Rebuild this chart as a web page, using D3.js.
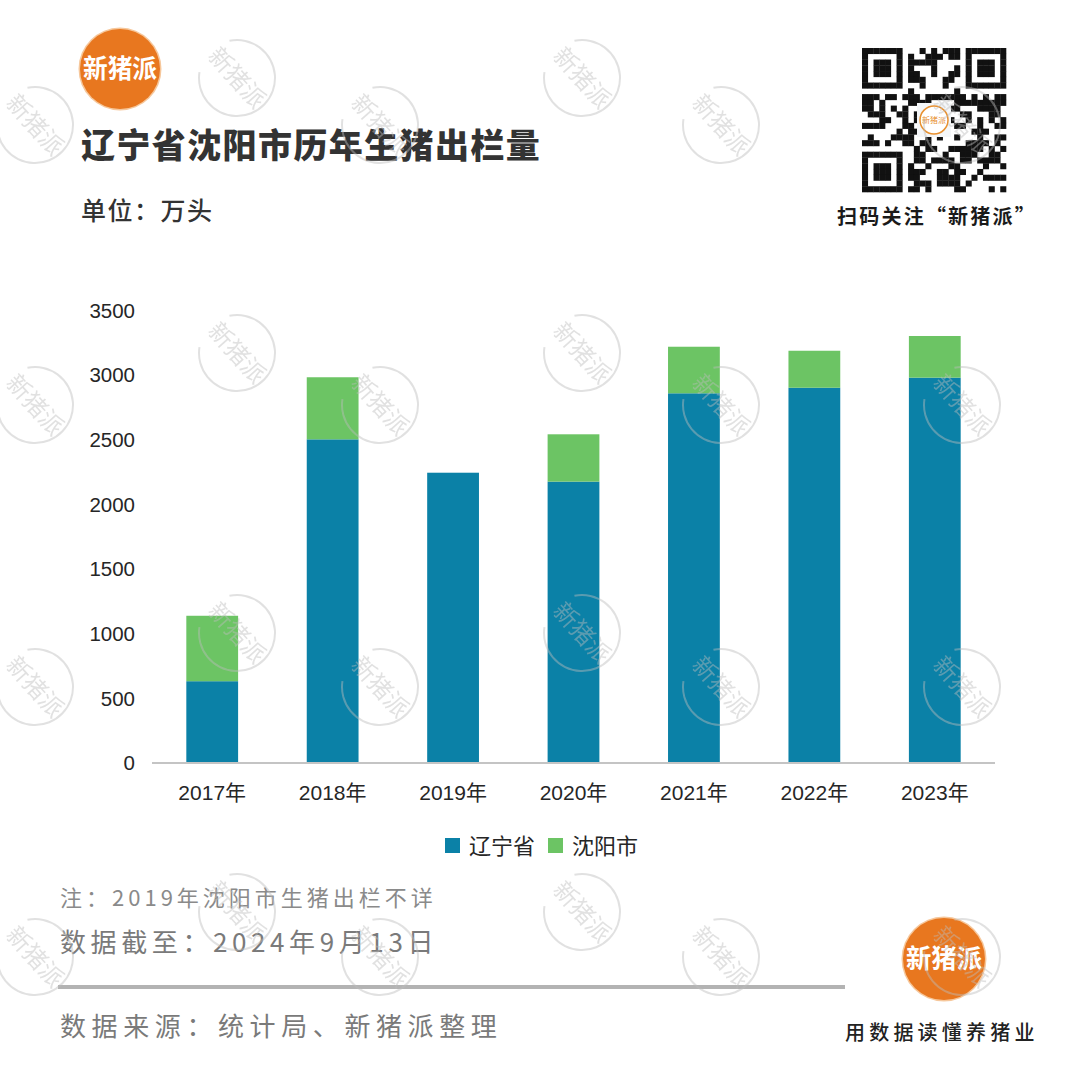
<!DOCTYPE html>
<html><head><meta charset="utf-8">
<script src="https://cdn.jsdelivr.net/npm/d3@7"></script>
<style>
html,body{margin:0;padding:0;background:#fff;}
svg{display:block;}
</style></head>
<body>
<svg id="c" width="1080" height="1080"></svg>
<script>
// ---- data ----
const categories = ['2017年','2018年','2019年','2020年','2021年','2022年','2023年'];
const liaoning = [630, 2500, 2242, 2173, 2856, 2899, 2977];
const shenyang = [506, 480, null, 366, 360, 286, 322];
const seriesNames = ['辽宁省','沈阳市'];
const yTicks = [0, 500, 1000, 1500, 2000, 2500, 3000, 3500];

const colors = {'辽宁省':'#0b81a7','沈阳市':'#6cc464'};
const CJK = '"Noto Sans CJK SC","Noto Sans",sans-serif';
const LAT = '"Liberation Sans",Arial,"Noto Sans CJK SC",sans-serif';

const svg = d3.select('#c');
svg.append('rect').attr('width',1080).attr('height',1080).attr('fill','#fff');

// ---- scales ----
const x = d3.scaleBand().domain(categories).range([152, 995]).paddingInner(0.57).paddingOuter(0.285);
const y = d3.scaleLinear().domain([0, 3500]).range([762.7, 310]);

// ---- stacked bars ----
const rows = categories.map((c,i)=>({cat:c,'辽宁省':liaoning[i],'沈阳市':shenyang[i]==null?0:shenyang[i]}));
const stack = d3.stack().keys(seriesNames)(rows);
const g = svg.append('g');
stack.forEach(layer=>{
  g.selectAll(null).data(layer).enter().append('rect')
    .attr('x', d=>x(d.data.cat))
    .attr('width', x.bandwidth())
    .attr('y', d=>y(d[1]))
    .attr('height', d=>y(d[0])-y(d[1]))
    .attr('fill', colors[layer.key]);
});

// ---- axes ----
const yAxis = d3.axisLeft(y).tickValues(yTicks).tickFormat(d3.format('d')).tickSize(0).tickPadding(0);
const ya = svg.append('g').attr('transform','translate(135,0)').call(yAxis);
ya.select('.domain').remove();
ya.selectAll('text').attr('font-family',LAT).attr('font-size',20.5).attr('fill','#262626').attr('dy','0.35em');

const xAxis = d3.axisBottom(x).tickSize(0).tickPadding(0);
const xa = svg.append('g').attr('transform','translate(0,763)').call(xAxis);
xa.select('.domain').attr('stroke','#c4c4c4').attr('stroke-width',2).attr('d','M152,0H995');
xa.selectAll('text').attr('font-family',LAT).attr('font-size',21).attr('fill','#262626').attr('y',30).attr('dy','0.35em');

// ---- legend ----
const leg = svg.append('g');
const legX = [445, 548];
seriesNames.forEach((s,i)=>{
  leg.append('rect').attr('x',legX[i]).attr('y',838).attr('width',15).attr('height',15).attr('fill',colors[s]);
  leg.append('text').attr('x',legX[i]+24).attr('y',846).attr('dy','0.35em')
    .attr('font-family',CJK).attr('font-size',22).attr('fill','#262626').text(s);
});

// ---- titles ----
svg.append('text').attr('x',81).attr('y',146).attr('dy','0.35em')
  .attr('font-family',CJK).attr('font-weight',900).attr('font-size',34).attr('letter-spacing',1.4)
  .attr('fill','#333').text('辽宁省沈阳市历年生猪出栏量');
svg.append('text').attr('x',81).attr('y',211).attr('dy','0.35em')
  .attr('font-family',CJK).attr('font-weight',500).attr('font-size',25).attr('letter-spacing',1.5)
  .attr('fill','#333').text('单位：万头');

// ---- footer ----
function note(txt, yy, size, ls, col){
  svg.append('text').attr('x',60).attr('y',yy).attr('dy','0.35em')
    .attr('font-family',CJK).attr('font-size',size).attr('letter-spacing',ls).attr('fill',col).text(txt);
}
note('注：2019年沈阳市生猪出栏不详', 898, 22, 4, '#8a8a8a');
note('数据截至：2024年9月13日', 943, 26, 4.6, '#7a7a7a');
svg.append('line').attr('x1',58).attr('x2',845).attr('y1',987).attr('y2',987).attr('stroke','#b3b3b3').attr('stroke-width',4);
note('数据来源：统计局、新猪派整理', 1027, 26, 5.6, '#7a7a7a');

svg.append('text').attr('x',845).attr('y',1033).attr('dy','0.35em')
  .attr('font-family',CJK).attr('font-weight',500).attr('font-size',20).attr('letter-spacing',4.2)
  .attr('fill','#222').text('用数据读懂养猪业');

// ---- logos ----
function logo(cx, cy, r, fs){
  const lg = svg.append('g');
  lg.append('circle').attr('cx',cx).attr('cy',cy).attr('r',r+1.5).attr('fill','#f6c79b');
  lg.append('circle').attr('cx',cx).attr('cy',cy).attr('r',r).attr('fill','#e8771f');
  lg.append('text').attr('x',cx).attr('y',cy).attr('dy','0.36em').attr('text-anchor','middle')
    .attr('font-family',CJK).attr('font-weight',700).attr('font-size',fs).attr('fill','#fff')
    .attr('textLength', r*2-6).attr('lengthAdjust','spacingAndGlyphs').text('新猪派');
}
logo(120, 69, 40, 26);
logo(944, 959, 41, 26);

// ---- QR code (decorative) ----
const qr = svg.append('g');
const N = 25, q0x = 862, q0y = 48, m = 144/N;
function bit(r,c){let h=(r*73856093)^(c*19349663)^0x5bd1e995; h=Math.imul(h^(h>>>13),1274126177); h^=h>>>16; return (h&7)<4;}
function finderOn(r,c,fr,fc){const d=Math.max(Math.abs(r-fr-3),Math.abs(c-fc-3)); return d!==2;}
for(let r=0;r<N;r++){for(let c=0;c<N;c++){
  let on;
  if(r<7&&c<7) on=finderOn(r,c,0,0);
  else if(r<7&&c>=N-7) on=finderOn(r,c,0,N-7);
  else if(r>=N-7&&c<7) on=finderOn(r,c,N-7,0);
  else if((r===7&&c<8)||(c===7&&r<8)||(r===7&&c>=N-8)||(c===N-8&&r<8)||(r===N-8&&c<8)||(c===7&&r>=N-8)) on=false;
  else on = bit(r,c);
  if(on) qr.append('rect').attr('x',q0x+c*m).attr('y',q0y+r*m).attr('width',m+0.3).attr('height',m+0.3).attr('fill','#111');
}}
qr.append('rect').attr('x',q0x+144/2-17).attr('y',q0y+144/2-17).attr('width',34).attr('height',34).attr('fill','#f4f6f8');
qr.append('circle').attr('cx',q0x+72).attr('cy',q0y+72).attr('r',14).attr('fill','#fff').attr('stroke','#e8902f').attr('stroke-width',1.5);
qr.append('text').attr('x',q0x+72).attr('y',q0y+72).attr('dy','0.35em').attr('text-anchor','middle')
  .attr('font-family',CJK).attr('font-size',8).attr('fill','#e8902f').text('新猪派');
svg.append('text').attr('x',937).attr('y',217).attr('dy','0.35em').attr('text-anchor','middle')
  .attr('font-family',CJK).attr('font-weight',700).attr('font-size',20).attr('letter-spacing',2.2)
  .attr('fill','#1a1a1a').text('扫码关注“新猪派”');

// ---- watermarks ----
const wmA_x = [237, 582], wmA_y = [78, 353, 633, 912];
const wmB_x = [35, 380, 721, 962], wmB_y = [125, 405, 687, 957];
const wm = svg.append('g').attr('opacity',0.45);
function stamp(cx, cy){
  const s = wm.append('g').attr('transform',`translate(${cx},${cy})`);
  s.append('path').attr('d', d3.arc()({innerRadius:37,outerRadius:39,startAngle:-0.2,endAngle:Math.PI*1.55}))
    .attr('fill','#bdbdbd');
  s.append('text').attr('transform','rotate(48)').attr('text-anchor','middle').attr('dy','0.35em')
    .attr('font-family',CJK).attr('font-size',24).attr('fill','#bdbdbd').text('新猪派');
}
wmA_y.forEach(yy=>wmA_x.forEach(xx=>stamp(xx,yy)));
wmB_y.forEach(yy=>wmB_x.forEach(xx=>stamp(xx,yy)));
</script>
</body></html>
